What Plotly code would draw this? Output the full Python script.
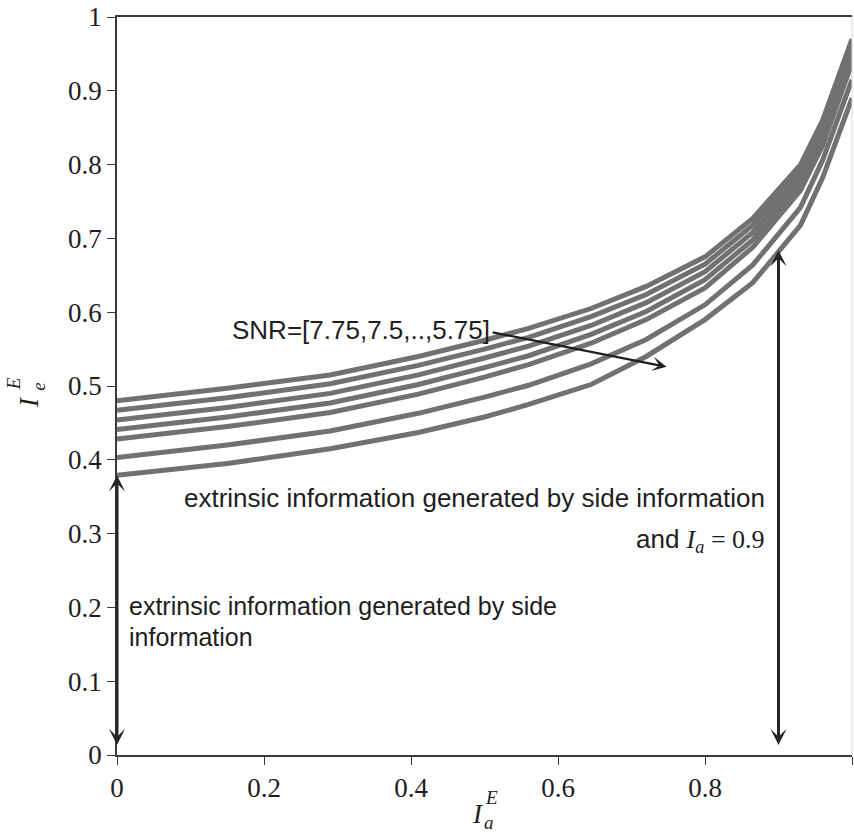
import plotly.graph_objects as go

# a-priori information values (x) at which the curves were evaluated
ia = [0, 0.15, 0.29, 0.41, 0.5, 0.56, 0.645, 0.72, 0.8, 0.865, 0.93, 0.96, 1.0]

# extrinsic information curves, SNR = 7.75 ... (top to bottom)
ie_1 = [0.480, 0.497, 0.515, 0.540, 0.562, 0.578, 0.605, 0.635, 0.675, 0.727, 0.800, 0.860, 0.970]
ie_2 = [0.467, 0.484, 0.503, 0.528, 0.550, 0.566, 0.594, 0.624, 0.665, 0.718, 0.792, 0.852, 0.962]
ie_3 = [0.454, 0.471, 0.490, 0.515, 0.538, 0.554, 0.582, 0.613, 0.655, 0.708, 0.783, 0.844, 0.955]
ie_4 = [0.441, 0.458, 0.477, 0.502, 0.525, 0.541, 0.570, 0.601, 0.644, 0.698, 0.774, 0.835, 0.947]
ie_5 = [0.428, 0.445, 0.464, 0.489, 0.512, 0.529, 0.558, 0.590, 0.633, 0.688, 0.765, 0.826, 0.938]
ie_6 = [0.403, 0.420, 0.439, 0.463, 0.485, 0.501, 0.530, 0.563, 0.610, 0.664, 0.742, 0.806, 0.915]
ie_7 = [0.379, 0.395, 0.415, 0.437, 0.458, 0.475, 0.502, 0.540, 0.590, 0.640, 0.718, 0.782, 0.890]
curves = [ie_1, ie_2, ie_3, ie_4, ie_5, ie_6, ie_7]

x_ticks = [0, 0.2, 0.4, 0.6, 0.8, 1]
y_ticks = [0, 0.1, 0.2, 0.3, 0.4, 0.5, 0.6, 0.7, 0.8, 0.9, 1]

side_info_only = ie_7[0]   # extrinsic info with side information only
ia_marker = 0.9
ia_marker_value = 0.684

SERIF = "Liberation Serif"
SANS = "Liberation Sans"
TXT = "#1e1e1e"
AX = "#3a3a3a"

fig = go.Figure()
for c in curves:
    fig.add_trace(go.Scatter(x=ia, y=c, mode="lines",
                             line=dict(color="#717174", width=5),
                             showlegend=False, hoverinfo="skip"))

axis_common = dict(range=[0, 1], showgrid=False, zeroline=False, showline=True,
                   linecolor=AX, linewidth=1.5, ticks="outside", ticklen=8,
                   tickwidth=1, tickcolor=AX,
                   tickfont=dict(family=SERIF, size=27, color=TXT))

fig.update_layout(
    width=854, height=833,
    margin=dict(l=117, r=2, t=17, b=78),
    paper_bgcolor="white", plot_bgcolor="white",
    xaxis=dict(**axis_common, tickvals=x_ticks, ticktext=[f"{v:g}" for v in x_ticks], mirror=True),
    yaxis=dict(**axis_common, tickvals=y_ticks, ticktext=[f"{v:g}" for v in y_ticks]),
    shapes=[dict(type="line", xref="paper", yref="paper", x0=1, x1=1, y0=0, y1=1,
                 line=dict(color="#d6d6d6", width=1))],
)

ann = []
# arrows
ann.append(dict(x=0, y=side_info_only, ax=0, ay=0, xref="x", yref="y", axref="x", ayref="y",
                text=" ", showarrow=True, arrowhead=3, startarrowhead=3, arrowside="end+start",
                arrowwidth=3, arrowsize=0.9, startarrowsize=0.9, arrowcolor="#262626",
                standoff=0, startstandoff=0))
ann.append(dict(x=ia_marker, y=ia_marker_value, ax=ia_marker, ay=0, xref="x", yref="y", axref="x", ayref="y",
                text=" ", showarrow=True, arrowhead=3, startarrowhead=3, arrowside="end+start",
                arrowwidth=3, arrowsize=0.9, startarrowsize=0.9, arrowcolor="#262626",
                standoff=0, startstandoff=0))
ann.append(dict(x=0.7477, y=0.526, ax=0.507, ay=0.5735, xref="x", yref="y", axref="x", ayref="y",
                text=" ", showarrow=True, arrowhead=3, arrowwidth=2.2, arrowsize=1.1,
                arrowcolor="#1e1e1e", standoff=0))
# texts
ann.append(dict(x=0.154, y=0.5759, xref="x", yref="y", text="SNR=[7.75,7.5,..,5.75]",
                showarrow=False, xanchor="left", yanchor="middle",
                font=dict(family=SANS, size=26, color=TXT)))
ann.append(dict(x=0.8844, y=0.348, xref="x", yref="y",
                text="extrinsic information generated by side information",
                showarrow=False, xanchor="right", yanchor="middle",
                font=dict(family=SANS, size=26, color=TXT)))
ann.append(dict(x=0.8844, y=0.291, xref="x", yref="y",
                text="and <span style='font-family:\"Liberation Serif\"'><i>I</i><sub><i>a</i></sub> = 0.9</span>",
                showarrow=False, xanchor="right", yanchor="middle",
                font=dict(family=SANS, size=26, color=TXT)))
ann.append(dict(x=0.014, y=0.2019, xref="x", yref="y",
                text="extrinsic information generated by side",
                showarrow=False, xanchor="left", yanchor="middle",
                font=dict(family=SANS, size=25, color=TXT)))
ann.append(dict(x=0.014, y=0.160, xref="x", yref="y", text="information",
                showarrow=False, xanchor="left", yanchor="middle",
                font=dict(family=SANS, size=25, color=TXT)))

# x axis title  I_a^E
ann.append(dict(x=0.4912, y=-0.080, xref="paper", yref="paper", text="<i>I</i>", showarrow=False,
                xanchor="center", yanchor="middle", font=dict(family=SERIF, size=27, color=TXT)))
ann.append(dict(x=0.5095, y=-0.057, xref="paper", yref="paper", text="<i>E</i>", showarrow=False,
                xanchor="center", yanchor="middle", font=dict(family=SERIF, size=19, color=TXT)))
ann.append(dict(x=0.5065, y=-0.091, xref="paper", yref="paper", text="<i>a</i>", showarrow=False,
                xanchor="center", yanchor="middle", font=dict(family=SERIF, size=19, color=TXT)))
# y axis title  I_e^E
ann.append(dict(x=-0.120, y=0.478, xref="paper", yref="paper", text="<i>I</i>", showarrow=False,
                textangle=-90, xanchor="center", yanchor="middle", font=dict(family=SERIF, size=27, color=TXT)))
ann.append(dict(x=-0.141, y=0.503, xref="paper", yref="paper", text="<i>E</i>", showarrow=False,
                textangle=-90, xanchor="center", yanchor="middle", font=dict(family=SERIF, size=19, color=TXT)))
ann.append(dict(x=-0.106, y=0.499, xref="paper", yref="paper", text="<i>e</i>", showarrow=False,
                textangle=-90, xanchor="center", yanchor="middle", font=dict(family=SERIF, size=19, color=TXT)))

fig.update_layout(annotations=ann)
fig.write_html("out.html")
